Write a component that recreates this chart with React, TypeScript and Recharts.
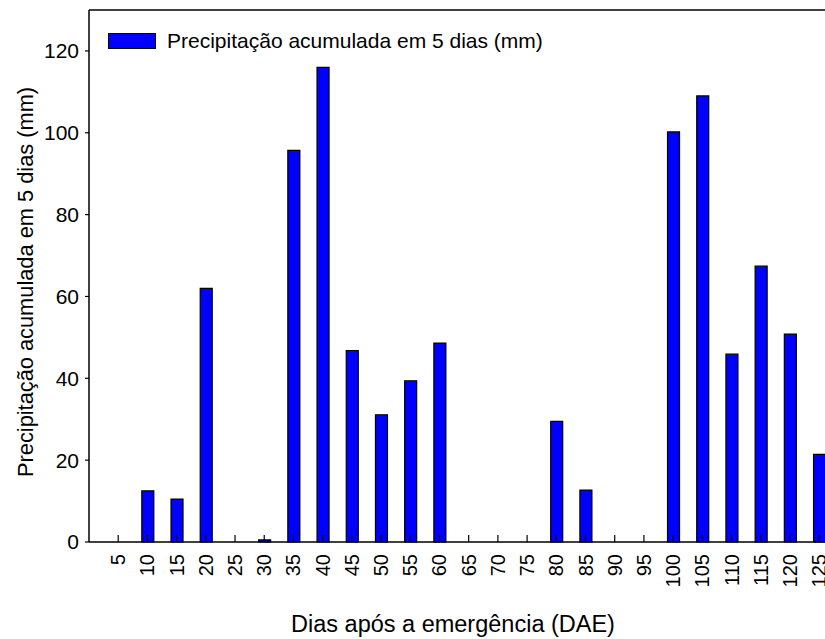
import React from "react";
import { BarChart, Bar, XAxis, YAxis, Legend, ReferenceLine } from "recharts";

// Dias após a emergência (DAE)
const dae = [5, 10, 15, 20, 25, 30, 35, 40, 45, 50, 55, 60, 65, 70, 75, 80, 85, 90, 95, 100, 105, 110, 115, 120, 125];
// Precipitação acumulada em 5 dias (mm)
const precipitacao = [0, 12.5, 10.5, 62, 0, 0.5, 95.7, 116, 46.8, 31.1, 39.4, 48.6, 0, 0, 0, 29.5, 12.7, 0, 0, 100.2, 109, 45.9, 67.4, 50.8, 21.4];
const yTicks = [0, 20, 40, 60, 80, 100, 120];

const data = dae.map((d, i) => ({ dae: d, chuva: precipitacao[i] }));

const FONT = '"Liberation Sans", Arial, sans-serif';
const SERIES = "Precipitação acumulada em 5 dias (mm)";
const X_TITLE = "Dias após a emergência (DAE)";

const XTick = (props: any) => {
  const { x, y, payload } = props;
  return (
    <g>
      <line x1={x} x2={x} y1={y} y2={y - 7} stroke="#000" strokeWidth={1.2} />
      <text
        x={x}
        y={y + 12}
        transform={`rotate(-90, ${x}, ${y + 12})`}
        textAnchor="end"
        dominantBaseline="central"
        fontSize={20}
        fontFamily={FONT}
        fill="#000"
      >
        {payload.value}
      </text>
    </g>
  );
};

const XTitle = () => (
  <text x={453} y={632} textAnchor="middle" fontSize={23.5} fontFamily={FONT} fill="#000">
    {X_TITLE}
  </text>
);

const YTitle = () => (
  <text x={33} y={282} transform="rotate(-90, 33, 282)" textAnchor="middle" fontSize={21.8} fontFamily={FONT} fill="#000">
    {SERIES}
  </text>
);

const LegendBox = () => (
  <div style={{ display: "flex", alignItems: "center", fontFamily: FONT, fontSize: 21, color: "#000" }}>
    <span style={{ display: "inline-block", width: 46, height: 14, background: "#0000ff", border: "1.5px solid #000", marginRight: 11 }} />
    {SERIES}
  </div>
);

export default function App() {
  return (
    <div style={{ position: "absolute", left: 0, top: 0, background: "#fff" }}>
      <BarChart width={825} height={639} data={data} margin={{ top: 10, right: 0, left: 0, bottom: 37 }} barSize={12}>
        <XAxis
          dataKey="dae"
          type="number"
          domain={[0, 126]}
          ticks={dae}
          interval={0}
          allowDataOverflow
          height={60}
          tickSize={0}
          tickMargin={0}
          tickLine={false}
          tick={<XTick />}
          axisLine={{ stroke: "#000", strokeWidth: 1.5 }}
          label={{ content: <XTitle /> }}
        />
        <YAxis
          type="number"
          domain={[0, 130]}
          ticks={yTicks}
          width={89}
          tickSize={4}
          tickMargin={6}
          tick={{ fontSize: 21, fontFamily: FONT, fill: "#000" }}
          tickLine={{ stroke: "#000", strokeWidth: 1.2 }}
          axisLine={{ stroke: "#000", strokeWidth: 1.5 }}
          label={{ content: <YTitle /> }}
        />
        <ReferenceLine y={130} stroke="#000" strokeWidth={1.5} />
        <Legend
          layout="horizontal"
          verticalAlign="middle"
          align="center"
          content={<LegendBox />}
          wrapperStyle={{ top: 29, left: 108, width: "auto" }}
        />
        <Bar dataKey="chuva" name={SERIES} fill="#0000ff" stroke="#000" strokeWidth={1.2} isAnimationActive={false} />
      </BarChart>
    </div>
  );
}
